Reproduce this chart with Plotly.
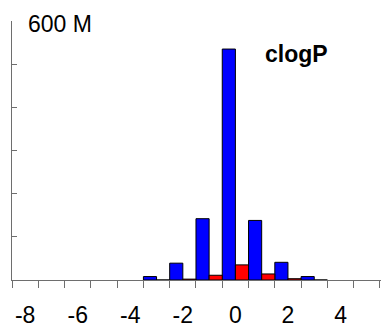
import plotly.graph_objects as go

# data (values in millions)
bins = [-3, -2, -1, 0, 1, 2, 3]
blue_vals = [8, 39, 142, 535, 138, 41, 8]
red_vals = [0, 2, 11, 35, 14, 3, 0]
x_label_vals = [-8, -6, -4, -2, 0, 2, 4]
x_label_text = ["-8", "-6", "-4", "-2", "0", "2", "4"]
x_tick_edges = [v + 0.5 for v in range(-9, 6)]
y_tick_vals = [0, 100, 200, 300, 400, 500, 600]
title_text = "clogP"
y_top_label = "600 M"

FONT = "Liberation Sans, Arial, Helvetica, sans-serif"
AXC = "#6e6e6e"

fig = go.Figure()
fig.add_trace(go.Bar(x=bins, y=blue_vals, width=0.5, offset=-0.5,
                     marker=dict(color="#0000ff", line=dict(color="black", width=1))))
fig.add_trace(go.Bar(x=bins, y=red_vals, width=0.5, offset=0,
                     marker=dict(color="#ff0000", line=dict(color="black", width=1))))

fig.update_layout(
    width=381, height=327,
    margin=dict(l=12, r=0, t=21, b=47),
    plot_bgcolor="white", paper_bgcolor="white",
    showlegend=False,
    font=dict(family=FONT, size=23, color="black"),
    xaxis=dict(range=[-8.5, 5.54], showgrid=False, zeroline=False,
               showline=True, linecolor=AXC, linewidth=1,
               tickmode="array", tickvals=x_label_vals, ticktext=x_label_text,
               ticks="", ticklen=0, ticklabelstandoff=14,
               tickfont=dict(family=FONT, size=23, color="black"),
               minor=dict(tickmode="array", tickvals=x_tick_edges, ticks="outside",
                          ticklen=7, tickwidth=1, tickcolor=AXC, showgrid=False)),
    yaxis=dict(range=[0, 600], showgrid=False, zeroline=False,
               showline=True, linecolor=AXC, linewidth=1,
               tickmode="array", tickvals=y_tick_vals, ticks="inside",
               ticklen=5, tickwidth=1, tickcolor=AXC, showticklabels=False),
    annotations=[
        dict(text="<b>" + title_text + "</b>", x=2.34, y=523, xref="x", yref="y",
             showarrow=False, xanchor="center", yanchor="middle",
             font=dict(family=FONT, size=23, color="black")),
        dict(text=y_top_label, x=-7.95, y=600, xref="x", yref="y", yshift=-3,
             showarrow=False, xanchor="left", yanchor="middle",
             font=dict(family=FONT, size=23, color="black")),
    ],
)

fig.write_html("out.html")
